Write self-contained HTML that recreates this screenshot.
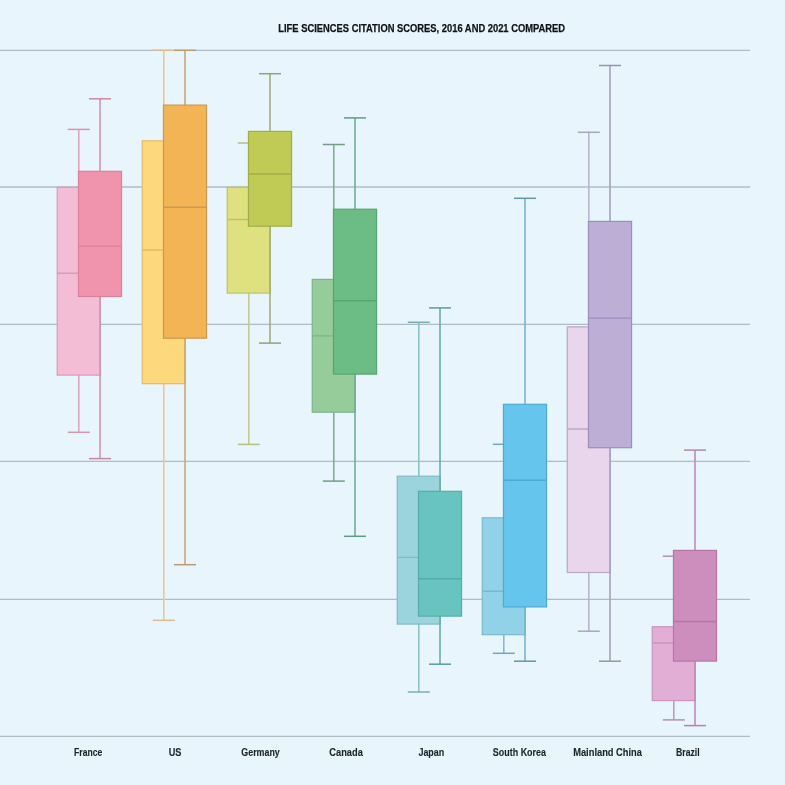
<!DOCTYPE html>
<html><head><meta charset="utf-8"><style>
html,body{margin:0;padding:0;background:#E8F5FD;}
svg{display:block;}
.lab{font-family:"Liberation Sans",sans-serif;font-size:11.4px;font-weight:bold;fill:#1E252C;stroke:#1E252C;stroke-width:0.15px;}
.title{font-family:"Liberation Sans",sans-serif;font-size:11.2px;font-weight:bold;fill:#111417;stroke:#111417;stroke-width:0.25px;}
</style></head><body>
<svg width="785" height="785" viewBox="0 0 785 785">
<rect width="785" height="785" fill="#E8F5FD"/>
<line x1="0" y1="50.4" x2="750" y2="50.4" stroke="#AEBCC6" stroke-width="1.3"/>
<line x1="0" y1="187.0" x2="750" y2="187.0" stroke="#AEBCC6" stroke-width="1.3"/>
<line x1="0" y1="324.4" x2="750" y2="324.4" stroke="#AEBCC6" stroke-width="1.3"/>
<line x1="0" y1="461.4" x2="750" y2="461.4" stroke="#AEBCC6" stroke-width="1.3"/>
<line x1="0" y1="599.4" x2="750" y2="599.4" stroke="#AEBCC6" stroke-width="1.3"/>
<line x1="0" y1="736.4" x2="750" y2="736.4" stroke="#AEBCC6" stroke-width="1.3"/>
<line x1="78.8" y1="129.4" x2="78.8" y2="187.3" stroke="#E2A4BD" stroke-width="1.6"/>
<line x1="78.8" y1="375.1" x2="78.8" y2="432.3" stroke="#E2A4BD" stroke-width="1.6"/>
<line x1="67.8" y1="129.4" x2="89.8" y2="129.4" stroke="#D995AF" stroke-width="1.5"/>
<line x1="67.8" y1="432.3" x2="89.8" y2="432.3" stroke="#D995AF" stroke-width="1.5"/>
<rect x="57.25" y="187.3" width="43.1" height="187.8" fill="#F3BED5" stroke="#D99BB5" stroke-width="1.2"/>
<line x1="57.25" y1="273.3" x2="100.35" y2="273.3" stroke="#D99BB5" stroke-width="1.4"/>
<line x1="100.0" y1="98.8" x2="100.0" y2="171.3" stroke="#D693AD" stroke-width="1.6"/>
<line x1="100.0" y1="296.5" x2="100.0" y2="458.6" stroke="#D693AD" stroke-width="1.6"/>
<line x1="89.0" y1="98.8" x2="111.0" y2="98.8" stroke="#CC88A2" stroke-width="1.5"/>
<line x1="89.0" y1="458.6" x2="111.0" y2="458.6" stroke="#CC88A2" stroke-width="1.5"/>
<rect x="78.45" y="171.3" width="43.1" height="125.2" fill="#F094AE" stroke="#DA819D" stroke-width="1.2"/>
<line x1="78.45" y1="246.1" x2="121.55" y2="246.1" stroke="#DA819D" stroke-width="1.4"/>
<line x1="163.8" y1="50.3" x2="163.8" y2="140.8" stroke="#E8C79E" stroke-width="1.6"/>
<line x1="163.8" y1="383.7" x2="163.8" y2="620.3" stroke="#E8C79E" stroke-width="1.6"/>
<line x1="152.8" y1="50.3" x2="174.8" y2="50.3" stroke="#DDBB90" stroke-width="1.5"/>
<line x1="152.8" y1="620.3" x2="174.8" y2="620.3" stroke="#DDBB90" stroke-width="1.5"/>
<rect x="142.25" y="140.8" width="43.1" height="242.9" fill="#FDD87C" stroke="#E8B868" stroke-width="1.2"/>
<line x1="142.25" y1="250.0" x2="185.35" y2="250.0" stroke="#E8B868" stroke-width="1.4"/>
<line x1="185.0" y1="50.3" x2="185.0" y2="105.1" stroke="#C9A678" stroke-width="1.6"/>
<line x1="185.0" y1="338.2" x2="185.0" y2="564.7" stroke="#C9A678" stroke-width="1.6"/>
<line x1="174.0" y1="50.3" x2="196.0" y2="50.3" stroke="#B89C74" stroke-width="1.5"/>
<line x1="174.0" y1="564.7" x2="196.0" y2="564.7" stroke="#B89C74" stroke-width="1.5"/>
<rect x="163.45" y="105.1" width="43.1" height="233.1" fill="#F2B455" stroke="#CC9A4E" stroke-width="1.2"/>
<line x1="163.45" y1="207.2" x2="206.55" y2="207.2" stroke="#CC9A4E" stroke-width="1.4"/>
<line x1="248.8" y1="143.0" x2="248.8" y2="187.3" stroke="#C5CC8E" stroke-width="1.6"/>
<line x1="248.8" y1="293.1" x2="248.8" y2="444.4" stroke="#C5CC8E" stroke-width="1.6"/>
<line x1="237.8" y1="143.0" x2="259.8" y2="143.0" stroke="#B6BE88" stroke-width="1.5"/>
<line x1="237.8" y1="444.4" x2="259.8" y2="444.4" stroke="#B6BE88" stroke-width="1.5"/>
<rect x="227.25" y="187.3" width="43.1" height="105.8" fill="#DEE17E" stroke="#BFC070" stroke-width="1.2"/>
<line x1="227.25" y1="219.5" x2="270.35" y2="219.5" stroke="#BFC070" stroke-width="1.4"/>
<line x1="270.0" y1="73.7" x2="270.0" y2="131.4" stroke="#A3AD80" stroke-width="1.6"/>
<line x1="270.0" y1="226.2" x2="270.0" y2="343.1" stroke="#A3AD80" stroke-width="1.6"/>
<line x1="259.0" y1="73.7" x2="281.0" y2="73.7" stroke="#97A07A" stroke-width="1.5"/>
<line x1="259.0" y1="343.1" x2="281.0" y2="343.1" stroke="#97A07A" stroke-width="1.5"/>
<rect x="248.45" y="131.4" width="43.1" height="94.8" fill="#BFCB55" stroke="#A1AE48" stroke-width="1.2"/>
<line x1="248.45" y1="174.0" x2="291.55" y2="174.0" stroke="#A1AE48" stroke-width="1.4"/>
<line x1="333.8" y1="144.5" x2="333.8" y2="279.4" stroke="#80AE92" stroke-width="1.6"/>
<line x1="333.8" y1="412.2" x2="333.8" y2="481.1" stroke="#80AE92" stroke-width="1.6"/>
<line x1="322.8" y1="144.5" x2="344.8" y2="144.5" stroke="#739E85" stroke-width="1.5"/>
<line x1="322.8" y1="481.1" x2="344.8" y2="481.1" stroke="#739E85" stroke-width="1.5"/>
<rect x="312.25" y="279.4" width="43.1" height="132.8" fill="#96CC9A" stroke="#7FB286" stroke-width="1.2"/>
<line x1="312.25" y1="335.9" x2="355.35" y2="335.9" stroke="#7FB286" stroke-width="1.4"/>
<line x1="355.0" y1="117.9" x2="355.0" y2="209.2" stroke="#6BB095" stroke-width="1.6"/>
<line x1="355.0" y1="374.1" x2="355.0" y2="536.3" stroke="#6BB095" stroke-width="1.6"/>
<line x1="344.0" y1="117.9" x2="366.0" y2="117.9" stroke="#5E9C84" stroke-width="1.5"/>
<line x1="344.0" y1="536.3" x2="366.0" y2="536.3" stroke="#5E9C84" stroke-width="1.5"/>
<rect x="333.45" y="209.2" width="43.1" height="164.9" fill="#6CBC85" stroke="#58A472" stroke-width="1.2"/>
<line x1="333.45" y1="300.8" x2="376.55" y2="300.8" stroke="#58A472" stroke-width="1.4"/>
<line x1="418.8" y1="322.3" x2="418.8" y2="476.2" stroke="#86C4CA" stroke-width="1.6"/>
<line x1="418.8" y1="624.1" x2="418.8" y2="692.0" stroke="#86C4CA" stroke-width="1.6"/>
<line x1="407.8" y1="322.3" x2="429.8" y2="322.3" stroke="#78AFB4" stroke-width="1.5"/>
<line x1="407.8" y1="692.0" x2="429.8" y2="692.0" stroke="#78AFB4" stroke-width="1.5"/>
<rect x="397.25" y="476.2" width="43.1" height="147.9" fill="#9BD4DC" stroke="#7FBCC4" stroke-width="1.2"/>
<line x1="397.25" y1="557.4" x2="440.35" y2="557.4" stroke="#7FBCC4" stroke-width="1.4"/>
<line x1="440.0" y1="307.9" x2="440.0" y2="491.3" stroke="#6AAEAC" stroke-width="1.6"/>
<line x1="440.0" y1="616.1" x2="440.0" y2="664.2" stroke="#6AAEAC" stroke-width="1.6"/>
<line x1="429.0" y1="307.9" x2="451.0" y2="307.9" stroke="#5E9C9C" stroke-width="1.5"/>
<line x1="429.0" y1="664.2" x2="451.0" y2="664.2" stroke="#5E9C9C" stroke-width="1.5"/>
<rect x="418.45" y="491.3" width="43.1" height="124.8" fill="#68C4C0" stroke="#55ACA8" stroke-width="1.2"/>
<line x1="418.45" y1="578.7" x2="461.55" y2="578.7" stroke="#55ACA8" stroke-width="1.4"/>
<line x1="503.8" y1="444.3" x2="503.8" y2="517.8" stroke="#80BDD4" stroke-width="1.6"/>
<line x1="503.8" y1="634.7" x2="503.8" y2="653.3" stroke="#80BDD4" stroke-width="1.6"/>
<line x1="492.8" y1="444.3" x2="514.8" y2="444.3" stroke="#70A8B8" stroke-width="1.5"/>
<line x1="492.8" y1="653.3" x2="514.8" y2="653.3" stroke="#70A8B8" stroke-width="1.5"/>
<rect x="482.25" y="517.8" width="43.1" height="116.9" fill="#92D2E8" stroke="#7AB8D0" stroke-width="1.2"/>
<line x1="482.25" y1="591.3" x2="525.35" y2="591.3" stroke="#7AB8D0" stroke-width="1.4"/>
<line x1="525.0" y1="198.3" x2="525.0" y2="404.3" stroke="#75B5D5" stroke-width="1.6"/>
<line x1="525.0" y1="606.9" x2="525.0" y2="661.2" stroke="#75B5D5" stroke-width="1.6"/>
<line x1="514.0" y1="198.3" x2="536.0" y2="198.3" stroke="#5F9A9C" stroke-width="1.5"/>
<line x1="514.0" y1="661.2" x2="536.0" y2="661.2" stroke="#5F9A9C" stroke-width="1.5"/>
<rect x="503.45" y="404.3" width="43.1" height="202.6" fill="#66C5EC" stroke="#4FAAD2" stroke-width="1.2"/>
<line x1="503.45" y1="480.3" x2="546.55" y2="480.3" stroke="#4FAAD2" stroke-width="1.4"/>
<line x1="588.8" y1="132.3" x2="588.8" y2="326.9" stroke="#B9B4D0" stroke-width="1.6"/>
<line x1="588.8" y1="572.5" x2="588.8" y2="631.2" stroke="#B9B4D0" stroke-width="1.6"/>
<line x1="577.8" y1="132.3" x2="599.8" y2="132.3" stroke="#A8A4C0" stroke-width="1.5"/>
<line x1="577.8" y1="631.2" x2="599.8" y2="631.2" stroke="#A8A4C0" stroke-width="1.5"/>
<rect x="567.25" y="326.9" width="43.1" height="245.6" fill="#E9D6EC" stroke="#B8A8C4" stroke-width="1.2"/>
<line x1="567.25" y1="429.0" x2="610.35" y2="429.0" stroke="#B8A8C4" stroke-width="1.4"/>
<line x1="610.0" y1="65.5" x2="610.0" y2="221.4" stroke="#A3A1C2" stroke-width="1.6"/>
<line x1="610.0" y1="447.7" x2="610.0" y2="661.2" stroke="#A3A1C2" stroke-width="1.6"/>
<line x1="599.0" y1="65.5" x2="621.0" y2="65.5" stroke="#9593B3" stroke-width="1.5"/>
<line x1="599.0" y1="661.2" x2="621.0" y2="661.2" stroke="#9593B3" stroke-width="1.5"/>
<rect x="588.45" y="221.4" width="43.1" height="226.3" fill="#BDAED6" stroke="#9C8EBC" stroke-width="1.2"/>
<line x1="588.45" y1="318.1" x2="631.55" y2="318.1" stroke="#9C8EBC" stroke-width="1.4"/>
<line x1="673.8" y1="556.2" x2="673.8" y2="626.7" stroke="#C39ABC" stroke-width="1.6"/>
<line x1="673.8" y1="700.6" x2="673.8" y2="719.9" stroke="#C39ABC" stroke-width="1.6"/>
<line x1="662.8" y1="556.2" x2="684.8" y2="556.2" stroke="#B491AE" stroke-width="1.5"/>
<line x1="662.8" y1="719.9" x2="684.8" y2="719.9" stroke="#B491AE" stroke-width="1.5"/>
<rect x="652.25" y="626.7" width="43.1" height="73.9" fill="#E3AED5" stroke="#C995BE" stroke-width="1.2"/>
<line x1="652.25" y1="643.0" x2="695.35" y2="643.0" stroke="#C995BE" stroke-width="1.4"/>
<line x1="695.0" y1="450.1" x2="695.0" y2="550.4" stroke="#BF8DB5" stroke-width="1.6"/>
<line x1="695.0" y1="661.1" x2="695.0" y2="725.6" stroke="#BF8DB5" stroke-width="1.6"/>
<line x1="684.0" y1="450.1" x2="706.0" y2="450.1" stroke="#AF87A8" stroke-width="1.5"/>
<line x1="684.0" y1="725.6" x2="706.0" y2="725.6" stroke="#AF87A8" stroke-width="1.5"/>
<rect x="673.45" y="550.4" width="43.1" height="110.7" fill="#CD8DBD" stroke="#B676A6" stroke-width="1.2"/>
<line x1="673.45" y1="621.5" x2="716.55" y2="621.5" stroke="#B676A6" stroke-width="1.4"/>
<g style="filter:saturate(1.01)">
<text x="278.3" y="31.8" class="title" textLength="286.8" lengthAdjust="spacingAndGlyphs">LIFE SCIENCES CITATION SCORES, 2016 AND 2021 COMPARED</text>
<text x="74.0" y="755.8" class="lab" textLength="28.3" lengthAdjust="spacingAndGlyphs">France</text>
<text x="168.7" y="755.8" class="lab" textLength="12.7" lengthAdjust="spacingAndGlyphs">US</text>
<text x="241.3" y="755.8" class="lab" textLength="38.5" lengthAdjust="spacingAndGlyphs">Germany</text>
<text x="329.3" y="755.8" class="lab" textLength="33.5" lengthAdjust="spacingAndGlyphs">Canada</text>
<text x="418.4" y="755.8" class="lab" textLength="25.9" lengthAdjust="spacingAndGlyphs">Japan</text>
<text x="492.8" y="755.8" class="lab" textLength="53.2" lengthAdjust="spacingAndGlyphs">South Korea</text>
<text x="573.2" y="755.8" class="lab" textLength="68.8" lengthAdjust="spacingAndGlyphs">Mainland China</text>
<text x="676.1" y="755.8" class="lab" textLength="23.6" lengthAdjust="spacingAndGlyphs">Brazil</text>
</g>
</svg>
</body></html>
